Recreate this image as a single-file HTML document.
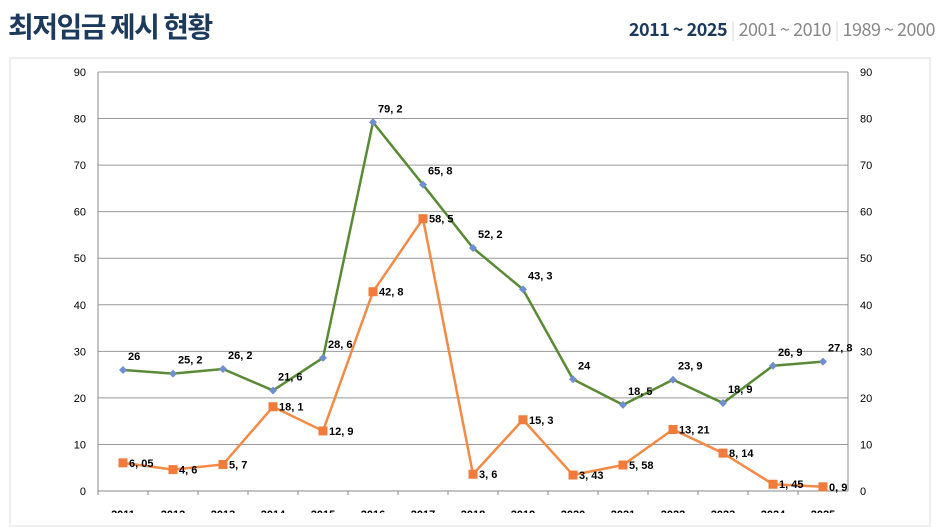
<!DOCTYPE html>
<html><head><meta charset="utf-8"><style>
body{margin:0;width:943px;height:513px;overflow:hidden;background:#fff;font-family:"Liberation Sans","Noto Sans CJK KR",sans-serif}
</style></head><body>
<div style="position:absolute;left:8px;top:6px;font-size:28px;font-weight:bold;color:#1b3a5c;font-family:'Noto Sans CJK KR',sans-serif;letter-spacing:-1.5px">최저임금 제시 현황</div>
<div style="position:absolute;right:8px;top:16px;font-size:18px;color:#888;font-family:'Noto Sans CJK KR',sans-serif;letter-spacing:-0.5px">
<span style="color:#1b3a5c;font-weight:bold">2011 ~ 2025</span> <span style="color:#ddd">|</span> <span>2001 ~ 2010</span> <span style="color:#ddd">|</span> <span>1989 ~ 2000</span></div>
<div style="position:absolute;left:9px;top:57px;width:922px;height:470px;border:2px solid #eee;box-sizing:border-box"></div>
<svg id="c" width="943" height="513" style="position:absolute;left:0;top:0"></svg>
<script>
const years=["2011","2012","2013","2014","2015","2016","2017","2018","2019","2020","2021","2022","2023","2024","2025"];
const greenVals=[26,25.2,26.2,21.6,28.6,79.2,65.8,52.2,43.3,24,18.5,23.9,18.9,26.9,27.8];
const greenLabels=["26","25, 2","26, 2","21, 6","28, 6","79, 2","65, 8","52, 2","43, 3","24","18, 5","23, 9","18, 9","26, 9","27, 8"];
const orangeVals=[6.05,4.6,5.7,18.1,12.9,42.8,58.5,3.6,15.3,3.43,5.58,13.21,8.14,1.45,0.9];
const orangeLabels=["6, 05","4, 6","5, 7","18, 1","12, 9","42, 8","58, 5","3, 6","15, 3","3, 43","5, 58","13, 21","8, 14","1, 45","0, 9"];
const yTicks=[0,10,20,30,40,50,60,70,80,90];
const svg=document.getElementById('c');const NS='http://www.w3.org/2000/svg';
const L=98,R=848,T=72,B=491;
const x=i=>L+(R-L)/years.length*(i+0.5);
const y=v=>B-(B-T)*v/90;
function mk(t,a,p){const e=document.createElementNS(NS,t);for(const k in a)e.setAttribute(k,a[k]);(p||svg).appendChild(e);return e;}
yTicks.forEach(v=>{
 const g=mk('line',{x1:L,x2:R,y1:y(v),y2:y(v),stroke:v==0?'#888':'#999','stroke-width':1});
 
 
 const a=mk('text',{x:L-12,y:y(v)+4,'text-anchor':'end','font-size':11,fill:'#000'});a.textContent=v;
 
 
 const b=mk('text',{x:R+12,y:y(v)+4,'font-size':11,fill:'#000'});b.textContent=v;
 
 
});
[L,R].forEach(xx=>{const a=mk('line',{x1:xx,x2:xx,y1:T,y2:B,stroke:'#888'});});
years.forEach((yr,i)=>{
 const t=mk('text',{x:x(i),y:518,'text-anchor':'middle','font-size':11,'font-weight':'bold',fill:'#000'});t.textContent=yr;
 
 
 mk('line',{x1:L+50*i,x2:L+50*i,y1:B,y2:B+4,stroke:'#888'});
});
function series(vals,labels,color,marker,name,lblDy){
 const pl=mk('polyline',{points:vals.map((v,i)=>x(i)+','+y(v)).join(' '),fill:'none',stroke:color,'stroke-width':2.5});
 
 
 vals.forEach((v,i)=>{
  let m;
  if(marker=='sq'){m=mk('rect',{x:x(i)-4.5,y:y(v)-4.5,width:9,height:9,fill:'#f07b3a'});}
  else{m=mk('polygon',{points:`${x(i)},${y(v)-4} ${x(i)+4},${y(v)} ${x(i)},${y(v)+4} ${x(i)-4},${y(v)}`,fill:'#6f8fd0'});}
  
  
  const t=mk('text',{x:x(i)+(marker=='sq'?6:5),y:y(v)+lblDy,'font-size':11,'font-weight':'bold',fill:'#000'});t.textContent=labels[i];
  
  
 });
}
series(greenVals,greenLabels,'#5a8a35','dia','green-series',-10);
series(orangeVals,orangeLabels,'#f38a45','sq','orange-series',4);
</script>
</body></html>
